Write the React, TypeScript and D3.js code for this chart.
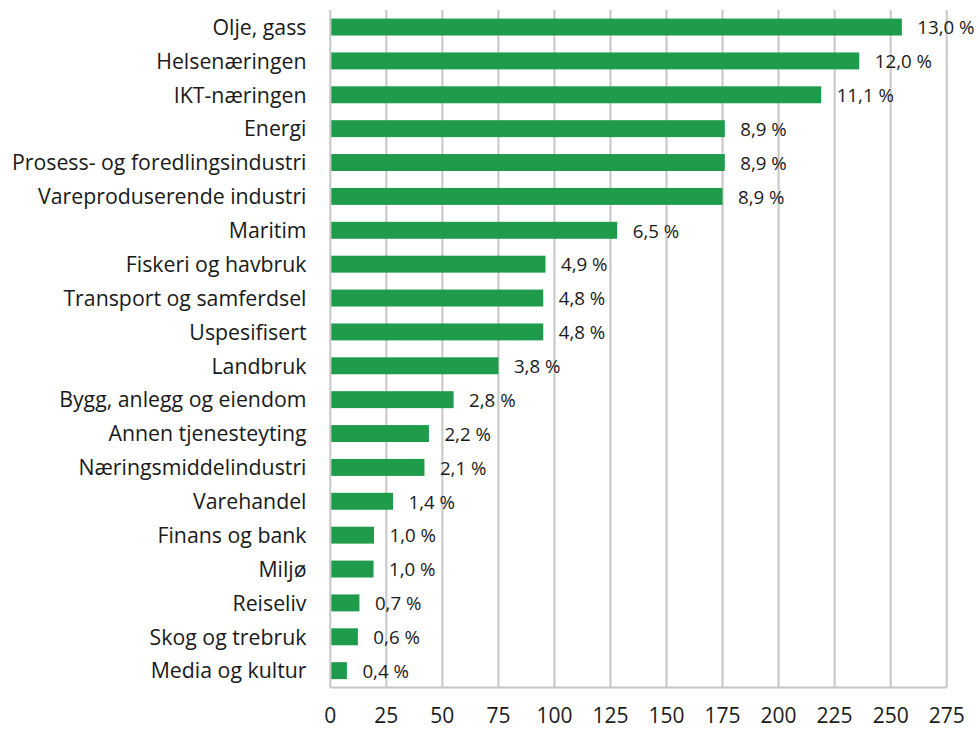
import React from "react";
import * as d3 from "d3";

const categories = [
  "Olje, gass",
  "Helsenæringen",
  "IKT-næringen",
  "Energi",
  "Prosess- og foredlingsindustri",
  "Vareproduserende industri",
  "Maritim",
  "Fiskeri og havbruk",
  "Transport og samferdsel",
  "Uspesifisert",
  "Landbruk",
  "Bygg, anlegg og eiendom",
  "Annen tjenesteyting",
  "Næringsmiddelindustri",
  "Varehandel",
  "Finans og bank",
  "Miljø",
  "Reiseliv",
  "Skog og trebruk",
  "Media og kultur",
];

const values = [255, 236, 219, 176, 176, 175, 128, 96, 95, 95, 75, 55, 44, 42, 28, 19.5, 19.3, 13, 12.3, 7.4];

const percentLabels = [
  "13,0 %", "12,0 %", "11,1 %", "8,9 %", "8,9 %", "8,9 %", "6,5 %", "4,9 %", "4,8 %", "4,8 %",
  "3,8 %", "2,8 %", "2,2 %", "2,1 %", "1,4 %", "1,0 %", "1,0 %", "0,7 %", "0,6 %", "0,4 %",
];

const xTicks = [0, 25, 50, 75, 100, 125, 150, 175, 200, 225, 250, 275];

const W = 978;
const H = 729;
const left = 330.3;
const right = 946.7;
const top = 10.1;
const bottom = 687.6;
const font = "'Open Sans', 'Noto Sans', sans-serif";
const barColor = "#1e9b4b";
const gridColor = "#c6c6c6";
const textColor = "#1a1a1a";

export default function App() {
  const x = d3.scaleLinear().domain([0, 275]).range([left, right]);
  const y = d3
    .scaleBand<string>()
    .domain(categories)
    .range([top, bottom])
    .paddingInner(0.5)
    .paddingOuter(0.25);
  const bw = y.bandwidth();

  return (
    <svg
      width={W}
      height={H}
      style={{ position: "absolute", left: 0, top: 0, display: "block", background: "#fff" }}
    >
      {xTicks.map((t) => (
        <line
          key={"g" + t}
          x1={x(t)}
          x2={x(t)}
          y1={top}
          y2={bottom}
          stroke={gridColor}
          strokeWidth={2}
        />
      ))}
      <line x1={left} x2={right} y1={bottom} y2={bottom} stroke={gridColor} strokeWidth={2} />
      {categories.map((c, i) => {
        const yc = (y(c) as number) + bw / 2;
        return (
          <g key={c}>
            <rect x={x(0) + 1} y={y(c)} width={x(values[i]) - x(0) - 1} height={bw} fill={barColor} />
            <text
              x={x(values[i]) + 15.5}
              y={yc + 7.3}
              fontFamily={font}
              fontSize={18.7}
              fill={textColor}
            >
              {percentLabels[i]}
            </text>
            <text
              x={306.5}
              y={yc + 7.8}
              textAnchor="end"
              fontFamily={font}
              fontSize={21.3}
              fill={textColor}
            >
              {c}
            </text>
          </g>
        );
      })}
      {xTicks.map((t) => (
        <text
          key={"t" + t}
          x={x(t)}
          y={723.2}
          textAnchor="middle"
          fontFamily={font}
          fontSize={21}
          fill={textColor}
        >
          {t}
        </text>
      ))}
    </svg>
  );
}
